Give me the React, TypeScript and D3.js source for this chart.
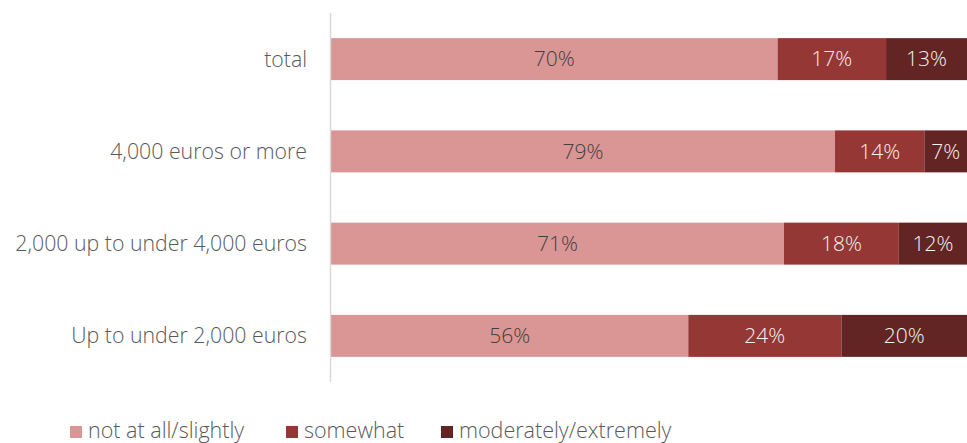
import React from "react";
import * as d3 from "d3";

const categories = ["total", "4,000 euros or more", "2,000 up to under 4,000 euros", "Up to under 2,000 euros"];
const seriesNames = ["not at all/slightly", "somewhat", "moderately/extremely"];
const notAtAll = [70, 79, 71, 56];
const somewhat = [17, 14, 18, 24];
const moderately = [13, 7, 12, 20];
const colors = ["#d99694", "#953735", "#632523"];
const labelColors = ["#404040", "#f2f2f2", "#f2f2f2"];

const W = 967, H = 443;
const FONT = "'Open Sans', Lato, sans-serif";

export default function App() {
  const x = d3.scaleLinear().domain([0, 100]).range([331, 969]);
  const y = d3.scaleBand<string>().domain(categories).range([13, 382]).paddingInner(0.545).paddingOuter(0.2725);
  const series = [notAtAll, somewhat, moderately];
  const rows = categories.map((c, i) => {
    let acc = 0;
    return series.map((s, k) => {
      const start = acc;
      acc += s[i];
      return { cat: c, k, start, end: acc, v: s[i] };
    });
  });
  const legendX = [70, 286, 441];
  return (
    <svg width={W} height={H} style={{ position: "absolute", left: 0, top: 0 }} fontFamily={FONT} fontWeight={300}>
      <rect width={W} height={H} fill="#fff" />
      {rows.map((segs) =>
        segs.map((s) => (
          <g key={s.cat + s.k}>
            <rect x={x(s.start)} y={y(s.cat)!} width={x(s.end) - x(s.start)} height={y.bandwidth()} fill={colors[s.k]} />
            <text
              x={(x(s.start) + Math.min(x(s.end), W)) / 2}
              y={y(s.cat)! + y.bandwidth() / 2}
              dy="0.35em"
              textAnchor="middle"
              fontSize={21}
              fill={labelColors[s.k]}
            >
              {s.v}%
            </text>
          </g>
        ))
      )}
      <line x1={330.5} x2={330.5} y1={13} y2={382} stroke="#d9d9d9" strokeWidth={1.5} />
      {categories.map((c) => (
        <text key={c} x={307} y={y(c)! + y.bandwidth() / 2} dy="0.35em" textAnchor="end" fontSize={21.3} fill="#595959">
          {c}
        </text>
      ))}
      {seriesNames.map((n, i) => (
        <g key={n}>
          <rect x={legendX[i]} y={426} width={12} height={12} fill={colors[i]} />
          <text x={legendX[i] + 18} y={430} dy="0.35em" fontSize={21.5} fill="#595959">
            {n}
          </text>
        </g>
      ))}
    </svg>
  );
}
